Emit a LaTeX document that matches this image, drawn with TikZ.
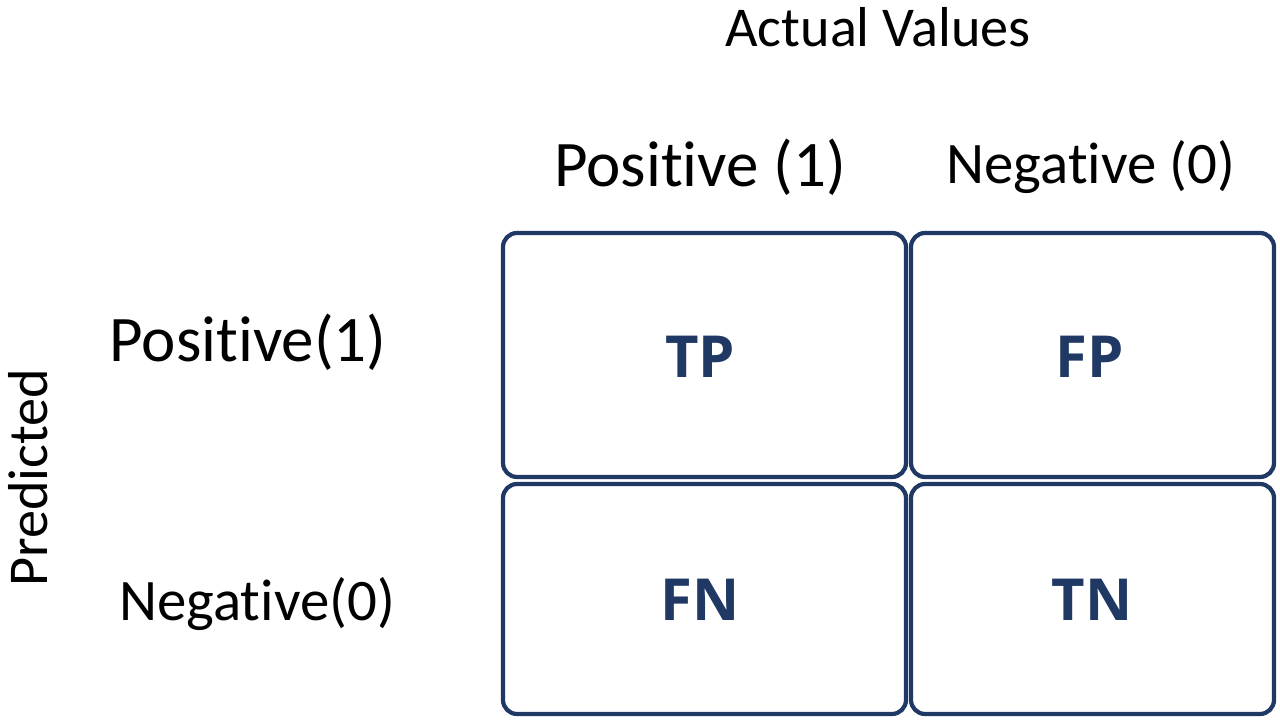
\documentclass[tikz,border=0pt]{standalone}
\usepackage{fontspec}
\setmainfont[Ligatures=NoCommon]{Carlito}
\newfontfamily\cellfont{Open Sans}
\definecolor{navy}{HTML}{1F3864}
\begin{document}
\begin{tikzpicture}
    [x=0.02cm, y=-0.02cm,
    cell/.style={draw=navy, line width=2.4pt, rounded corners=8pt},
    cellText/.style={text=navy, font=\cellfont\bfseries\fontsize{33}{36}\selectfont},
    head/.style={font=\fontsize{37}{42}\selectfont},
    headNeg/.style={font=\fontsize{33.5}{40}\selectfont},
    title/.style={font=\fontsize{32}{36}\selectfont}]
    \useasboundingbox (0,0) rectangle (1280,722);
    % matrix cells
    \draw [cell] (503,233) rectangle (906,477);
    \draw [cell] (911,233) rectangle (1274,477);
    \draw [cell] (503,484) rectangle (906,714);
    \draw [cell] (911,484) rectangle (1274,714);
    \node [cellText] (tp) at (700,357) {TP};
    \node [cellText] (fp) at (1090,357) {FP};
    \node [cellText] (fn) at (700,600) {FN};
    \node [cellText] (tn) at (1092,600) {TN};
    % headings
    \node [title] (actual) at (878,27) {Actual Values};
    \node [head] (colPos) at (700,167) {Positive (1)};
    \node [headNeg] (colNeg) at (1091,167) {Negative (0)};
    \node [head] (rowPos) at (248,342) {Positive(1)};
    \node [headNeg] (rowNeg) at (257,604) {Negative(0)};
    \node [title, rotate=90] (pred) at (28,478) {Predicted};
\end{tikzpicture}
\end{document}
